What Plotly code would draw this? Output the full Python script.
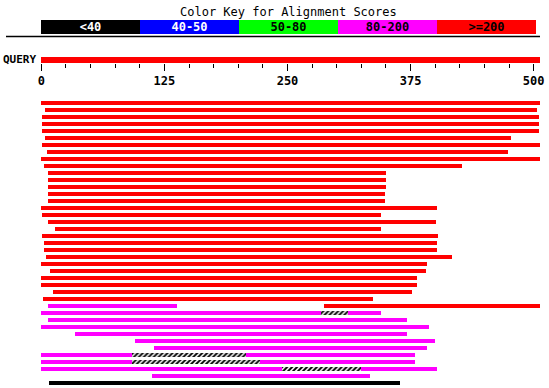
import plotly.graph_objects as go

W, H = 549, 388

# ---------------- data ----------------
query_length = 506

key_labels = ["<40", "40-50", "50-80", "80-200", ">=200"]
key_colors = ["#000000", "#0000ff", "#00ff00", "#ff00ff", "#ff0000"]
key_text_colors = ["white", "white", "black", "black", "black"]

axis_tick_values = [0, 125, 250, 375, 500]
axis_minor_values = list(range(0, 501, 25))

# aligned segments: row, start, end, score class
seg_row = [1, 2, 3, 4, 5, 6, 7, 8, 9, 10,
           11, 12, 13, 14, 15, 16, 17, 18, 19, 20,
           21, 22, 23, 24, 25, 26, 27, 28, 29,
           30, 30, 31, 31, 32, 33, 34, 35, 36,
           37, 37, 38, 38, 39, 39, 40, 41]
seg_start = [0, 4, 1, 1, 1, 4, 1, 6, 0, 3,
             7, 7, 7, 7, 7, 0, 1, 7, 14, 1,
             3, 3, 5, 0, 9, 0, 0, 12, 2,
             7, 287, 0, 311, 7, 0, 34, 95, 114,
             0, 208, 0, 222, 0, 325, 112, 8]
seg_end = [506, 503, 505, 505, 505, 477, 506, 474, 506, 427,
           350, 350, 350, 349, 349, 402, 345, 401, 345, 403,
           402, 402, 417, 392, 391, 382, 382, 376, 337,
           138, 506, 284, 345, 371, 394, 371, 400, 392,
           92, 379, 92, 379, 244, 402, 334, 364]
seg_class = [">=200"] * 29 + [
    "80-200", ">=200", "80-200", "80-200", "80-200", "80-200", "80-200", "80-200", "80-200",
    "80-200", "80-200", "80-200", "80-200", "80-200", "80-200", "80-200", "<40"]

# gaps inside alignments (hatched)
gap_row = [31, 37, 38, 39]
gap_start = [284, 92, 92, 244]
gap_end = [311, 208, 222, 325]

# ---------------- layout helpers ----------------
def py(px):  # pixel from top -> paper y
    return 1 - px / H

def pxx(px):  # pixel from left -> paper x
    return px / W

x0_px, px_per_unit = 41.3, 0.9848
x_range = [-x0_px / px_per_unit, (W - x0_px) / px_per_unit]

row1_px, row_step = 103.2, 7.0
main_top_px = 85
y_top = 1 + (main_top_px - row1_px) / row_step
y_bot = 1 + (H - row1_px) / row_step

FONT = "DejaVu Sans Mono"

fig = go.Figure()

# key bars
fig.add_trace(go.Bar(
    x=list(range(len(key_labels))), y=[1] * len(key_labels), width=1,
    marker=dict(color=key_colors, line=dict(width=0)),
    text=key_labels, textposition="inside", insidetextanchor="middle",
    constraintext="none", cliponaxis=False,
    textfont=dict(family=FONT, size=12, color=key_text_colors, weight="bold"),
    xaxis="x2", yaxis="y2", showlegend=False, hoverinfo="skip",
    textangle=0,
))

# query bar
fig.add_trace(go.Bar(
    y=[0.5], x=[query_length], base=[0], width=[1], orientation="h",
    marker=dict(color="#ff0000", line=dict(width=0)),
    xaxis="x", yaxis="y3", showlegend=False, hoverinfo="skip",
))

color_of = dict(zip(key_labels, key_colors))
for cls in ["<40", "40-50", "50-80", "80-200", ">=200"]:
    idx = [i for i, c in enumerate(seg_class) if c == cls]
    if not idx:
        continue
    fig.add_trace(go.Bar(
        y=[seg_row[i] for i in idx],
        x=[seg_end[i] - seg_start[i] for i in idx],
        base=[seg_start[i] for i in idx],
        width=0.5, orientation="h",
        marker=dict(color=color_of[cls], line=dict(width=0)),
        xaxis="x", yaxis="y", showlegend=False, hoverinfo="skip",
    ))

fig.add_trace(go.Bar(
    y=gap_row,
    x=[e - s for s, e in zip(gap_start, gap_end)],
    base=gap_start, width=0.5, orientation="h",
    marker=dict(color="white", line=dict(width=0),
                pattern=dict(shape="/", fgcolor="black", bgcolor="white",
                             fgopacity=1, size=3.5, solidity=0.55)),
    xaxis="x", yaxis="y", showlegend=False, hoverinfo="skip",
))

fig.update_layout(
    template="none",
    width=W, height=H, autosize=False,
    margin=dict(l=0, r=0, t=0, b=0, pad=0),
    paper_bgcolor="white", plot_bgcolor="rgba(0,0,0,0)",
    barmode="overlay", bargap=0,
    xaxis=dict(
        domain=[0, 1], range=x_range, anchor="y3", side="bottom",
        automargin=False,
        showgrid=False, zeroline=False, showline=False,
        tickmode="array", tickvals=axis_tick_values,
        ticktext=[str(v) for v in axis_tick_values],
        ticks="outside", ticklen=7, tickwidth=1, tickcolor="black",
        tickfont=dict(family=FONT, size=12, color="black", weight="bold"),
        minor=dict(tickmode="array", tickvals=axis_minor_values,
                   ticks="outside", ticklen=4, tickwidth=1, tickcolor="black",
                   showgrid=False),
    ),
    yaxis=dict(
        domain=[0, py(main_top_px)], range=[y_bot, y_top],
        visible=False, fixedrange=True, automargin=False,
    ),
    yaxis3=dict(
        domain=[py(63), py(57)], range=[0, 1], visible=False, automargin=False,
    ),
    xaxis2=dict(
        domain=[pxx(41), pxx(536)], range=[-0.5, len(key_labels) - 0.5],
        anchor="y2", visible=False, automargin=False,
    ),
    yaxis2=dict(
        domain=[py(34), py(20)], range=[0, 1], visible=False, automargin=False,
    ),
    shapes=[
        dict(type="line", xref="paper", yref="paper", layer="above",
             x0=pxx(6), x1=pxx(540), y0=py(36.5), y1=py(36.5),
             line=dict(color="black", width=1.5)),
        dict(type="line", xref="paper", yref="paper", layer="above",
             x0=pxx(6), x1=pxx(540), y0=py(44), y1=py(44),
             line=dict(color="white", width=1.5)),
        dict(type="line", xref="paper", yref="paper", layer="below",
             x0=pxx(6), x1=pxx(300), y0=py(90), y1=py(90),
             line=dict(color="white", width=1)),
    ],
    annotations=[
        dict(text="Color Key for Alignment Scores", xref="paper", yref="paper",
             x=pxx(288.5), y=py(11.5), xanchor="center", yanchor="middle",
             showarrow=False, font=dict(family=FONT, size=12, color="black")),
        dict(text="QUERY", xref="paper", yref="paper",
             x=pxx(38), y=py(59), xanchor="right", yanchor="middle",
             showarrow=False, font=dict(family=FONT, size=11, color="black", weight="bold")),
    ],
)

fig.write_html(
    "out.html",
    config={"displayModeBar": False, "staticPlot": True},
    post_script="document.body.style.margin='0px';document.body.style.overflow='hidden';",
)
